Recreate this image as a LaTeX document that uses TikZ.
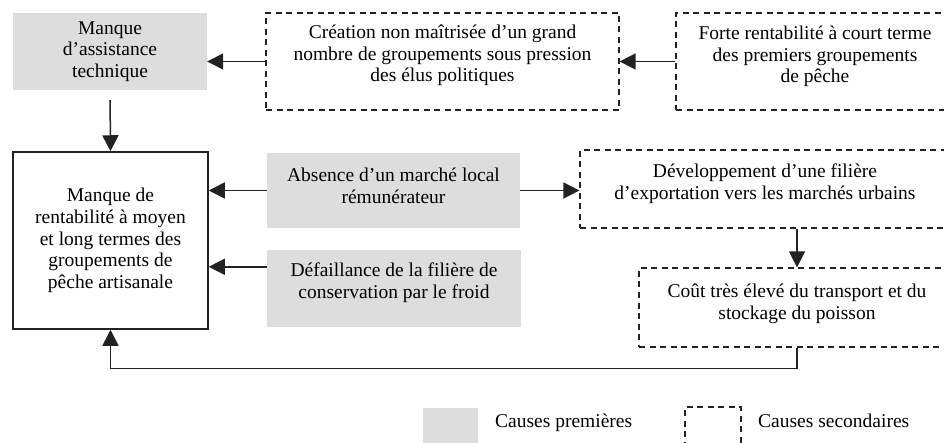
\documentclass[tikz,border=0pt]{standalone}
\usepackage{fontspec}
\setmainfont{Liberation Serif}
\usetikzlibrary{arrows.meta, positioning}
\newcommand{\boxfont}{\fontsize{19.5}{21.7}\selectfont}
\definecolor{causegray}{RGB}{221,221,221}
\definecolor{linegray}{RGB}{34,34,34}
\tikzset{first/.style={fill=causegray, inner sep=0pt},
         second/.style={draw=linegray, line width=1.2pt, dash pattern=on 6pt off 4.5pt, inner sep=0pt},
         mainbox/.style={draw=linegray, line width=1.5pt, inner sep=0pt},
         txt/.style={align=center, font=\boxfont, text=black},
         arr/.style={draw=linegray, line width=1.5pt, -{Triangle[length=16pt,width=16pt]}},
        }

\begin{document}
\begin{tikzpicture}[x=1pt,y=-1pt]
        \useasboundingbox (0,0) rectangle (944,443);
        \clip (0,0) rectangle (944,443);
        % causes
        \node[first,minimum width=194,minimum height=77,label={[txt]center:Manque\\d’assistance\\technique}](assist)at(110,51.5){};
        \node[second,minimum width=353,minimum height=97,label={[txt,yshift=6]center:Création non maîtrisée d’un grand\\nombre de groupements sous pression\\des élus politiques}](creation)at(442.5,61.5){};
        \node[second,minimum width=278,minimum height=97,label={[txt,yshift=5]center:Forte rentabilité à court terme\\des premiers groupements\\de pêche}](forte)at(815,61.5){};
        \node[mainbox,minimum width=195,minimum height=177,label={[txt]center:Manque de\\rentabilité à moyen\\et long termes des\\groupements de\\pêche artisanale}](manque)at(110.5,240.5){};
        \node[first,minimum width=253,minimum height=75,label={[txt,yshift=4.5]center:Absence d’un marché local\\rémunérateur}](absence)at(393.5,190.5){};
        \node[first,minimum width=254,minimum height=77,label={[txt,yshift=6]center:Défaillance de la filière de\\conservation par le froid}](defaillance)at(394,288.5){};
        \node[second,minimum width=370,minimum height=78,label={[txt,yshift=5]center:Développement d’une filière\\d’exportation vers les marchés urbains}](export)at(765,189){};
        \node[second,minimum width=316,minimum height=79,label={[txt,yshift=4]center:Coût très élevé du transport et du\\stockage du poisson}](cout)at(797,307.5){};
        % arrows
        \coordinate(coldin)at([yshift=-17pt]defaillance.north west);
        \draw[arr](creation.west)--(creation.west-|assist.east);
        \draw[arr](forte.west)--(forte.west-|creation.east);
        \draw[arr,shorten <=10pt](assist.south)--(manque.north);
        \draw[arr](absence.west)--(absence.west-|manque.east);
        \draw[arr](coldin)--(coldin-|manque.east);
        \draw[arr](absence.east)--(absence.east-|export.west);
        \draw[arr](export.south-|cout.north)--(cout.north);
        \draw[arr](cout.south)--++(0,21)-|(manque.south);
        % legend
        \node[first,minimum width=55,minimum height=52](keyfirst)at(450.5,434){};
        \node[second,minimum width=56,minimum height=53](keysecond)at(713,433.5){};
        \node[txt,anchor=base west,inner sep=0pt](keyfirsttxt)at(495,427){Causes premières};
        \node[txt,anchor=base west,inner sep=0pt](keysecondtxt)at(758,427){Causes secondaires};
\end{tikzpicture}
\end{document}
